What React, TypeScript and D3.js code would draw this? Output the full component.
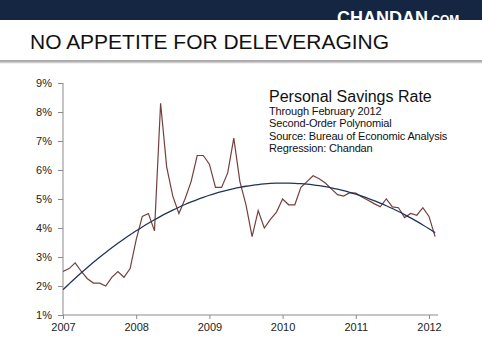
import React, { useEffect, useRef } from "react";
import * as d3 from "d3";

// monthly personal savings rate (%), Jan 2007 .. Feb 2012
const rate2007 = [2.5, 2.6, 2.8, 2.5, 2.25, 2.1, 2.1, 2.0, 2.3, 2.5, 2.3, 2.6];
const rate2008 = [3.6, 4.4, 4.5, 3.9, 8.3, 6.1, 5.1, 4.5, 5.0, 5.6, 6.5, 6.5];
const rate2009 = [6.2, 5.4, 5.4, 5.9, 7.1, 5.6, 4.8, 3.7, 4.6, 4.0, 4.3, 4.55];
const rate2010 = [5.0, 4.8, 4.8, 5.4, 5.6, 5.8, 5.7, 5.55, 5.35, 5.15, 5.1, 5.22];
const rate2011 = [5.2, 5.07, 4.96, 4.84, 4.73, 5.0, 4.73, 4.7, 4.36, 4.5, 4.44, 4.7];
const rate2012 = [4.4, 3.7];

const yearLabels = ["2007", "2008", "2009", "2010", "2011", "2012"];
const pctTicks = [1, 2, 3, 4, 5, 6, 7, 8, 9];
const noteLines = [
  "Through February 2012",
  "Second-Order Polynomial",
  "Source: Bureau of Economic Analysis",
  "Regression: Chandan",
];

const font = "Arial, 'Liberation Sans', sans-serif";

// least-squares quadratic fit (the regression drawn on the chart)
function quadFit(pts: [number, number][]) {
  const s = [0, 0, 0, 0, 0];
  const r = [0, 0, 0];
  pts.forEach(([x, y]) => {
    for (let k = 0; k < 5; k++) s[k] += Math.pow(x, k);
    for (let k = 0; k < 3; k++) r[k] += y * Math.pow(x, k);
  });
  const m = [
    [s[0], s[1], s[2], r[0]],
    [s[1], s[2], s[3], r[1]],
    [s[2], s[3], s[4], r[2]],
  ];
  for (let i = 0; i < 3; i++) {
    for (let j = i + 1; j < 3; j++) {
      const f = m[j][i] / m[i][i];
      for (let k = i; k < 4; k++) m[j][k] -= f * m[i][k];
    }
  }
  const c = [0, 0, 0];
  for (let i = 2; i >= 0; i--) {
    let v = m[i][3];
    for (let k = i + 1; k < 3; k++) v -= m[i][k] * c[k];
    c[i] = v / m[i][i];
  }
  return (x: number) => c[0] + c[1] * x + c[2] * x * x;
}

const App = () => {
  const ref = useRef<SVGSVGElement>(null);

  useEffect(() => {
    const svg = d3.select(ref.current);
    svg.selectAll("*").remove();

    const rates = [...rate2007, ...rate2008, ...rate2009, ...rate2010, ...rate2011, ...rate2012];
    const pts: [number, number][] = rates.map((v, i) => [i, v]);

    const x = d3.scaleLinear().domain([0, 60]).range([63, 429]);
    const y = d3.scaleLinear().domain([1, 9]).range([315, 83]);

    // header band
    svg.append("rect").attr("x", 0).attr("y", 0).attr("width", 482).attr("height", 20).attr("fill", "#152642");
    svg.append("clipPath").attr("id", "band").append("rect").attr("width", 482).attr("height", 20);
    const brand = svg.append("text").attr("clip-path", "url(#band)")
      .attr("x", 337).attr("y", 24).attr("fill", "#fff").attr("font-family", font).attr("font-weight", "bold");
    brand.append("tspan").attr("font-size", 18).text("CHANDAN");
    brand.append("tspan").attr("font-size", 12).text(".COM");

    svg.append("text").attr("x", 30).attr("y", 49).attr("font-family", font).attr("font-size", 21)
      .attr("fill", "#111").attr("textLength", 359).attr("lengthAdjust", "spacingAndGlyphs")
      .text("NO APPETITE FOR DELEVERAGING");
    svg.append("line").attr("x1", 0).attr("x2", 482).attr("y1", 61).attr("y2", 61).attr("stroke", "#555").attr("stroke-width", 1);
    svg.append("line").attr("x1", 0).attr("x2", 482).attr("y1", 62.5).attr("y2", 62.5).attr("stroke", "#ccc").attr("stroke-width", 1.5);

    // axes
    const axisColor = "#8a8a8a";
    const yAxis = svg.append("g").attr("transform", "translate(63,0)")
      .call(d3.axisLeft(y).tickValues(pctTicks).tickSize(5).tickFormat((d) => `${d}%`));
    yAxis.select(".domain").attr("d", `M0,${y(9)}V${y(1)}`);
    const xAxis = svg.append("g").attr("transform", "translate(0,315)")
      .call(d3.axisBottom(x).tickValues(yearLabels.map((_, i) => i * 12)).tickSize(4)
        .tickFormat((_, i) => yearLabels[i]));
    xAxis.select(".domain").attr("d", `M${x(0)},0H438`);
    [yAxis, xAxis].forEach((g) => {
      g.selectAll("path, line").attr("stroke", axisColor);
      g.selectAll("text").attr("font-family", font).attr("font-size", 11).attr("fill", "#222");
    });
    yAxis.selectAll("text").attr("x", -11);
    xAxis.selectAll("text").attr("y", 8);

    // series
    svg.append("path").datum(pts).attr("fill", "none").attr("stroke", "#74403e").attr("stroke-width", 1.2)
      .attr("d", d3.line<[number, number]>().x((d) => x(d[0])).y((d) => y(d[1])));

    const fit = quadFit(pts);
    svg.append("path").datum(pts).attr("fill", "none").attr("stroke", "#1f3558").attr("stroke-width", 1.3)
      .attr("d", d3.line<[number, number]>().curve(d3.curveBasis).x((d) => x(d[0])).y((d) => y(fit(d[0]))));

    // notes
    svg.append("text").attr("x", 269).attr("y", 102).attr("font-family", font).attr("font-size", 16)
      .attr("fill", "#111").text("Personal Savings Rate");
    svg.selectAll(".note").data(noteLines).enter().append("text")
      .attr("x", 269).attr("y", (_, i) => 115 + i * 12.3).attr("font-family", font).attr("font-size", 11)
      .attr("fill", "#111").attr("letter-spacing", -0.15).text((d) => d);
  }, []);

  return (
    <svg ref={ref} width={482} height={360}
      style={{ position: "absolute", left: 0, top: 0, background: "#fff" }} />
  );
};

export default App;
